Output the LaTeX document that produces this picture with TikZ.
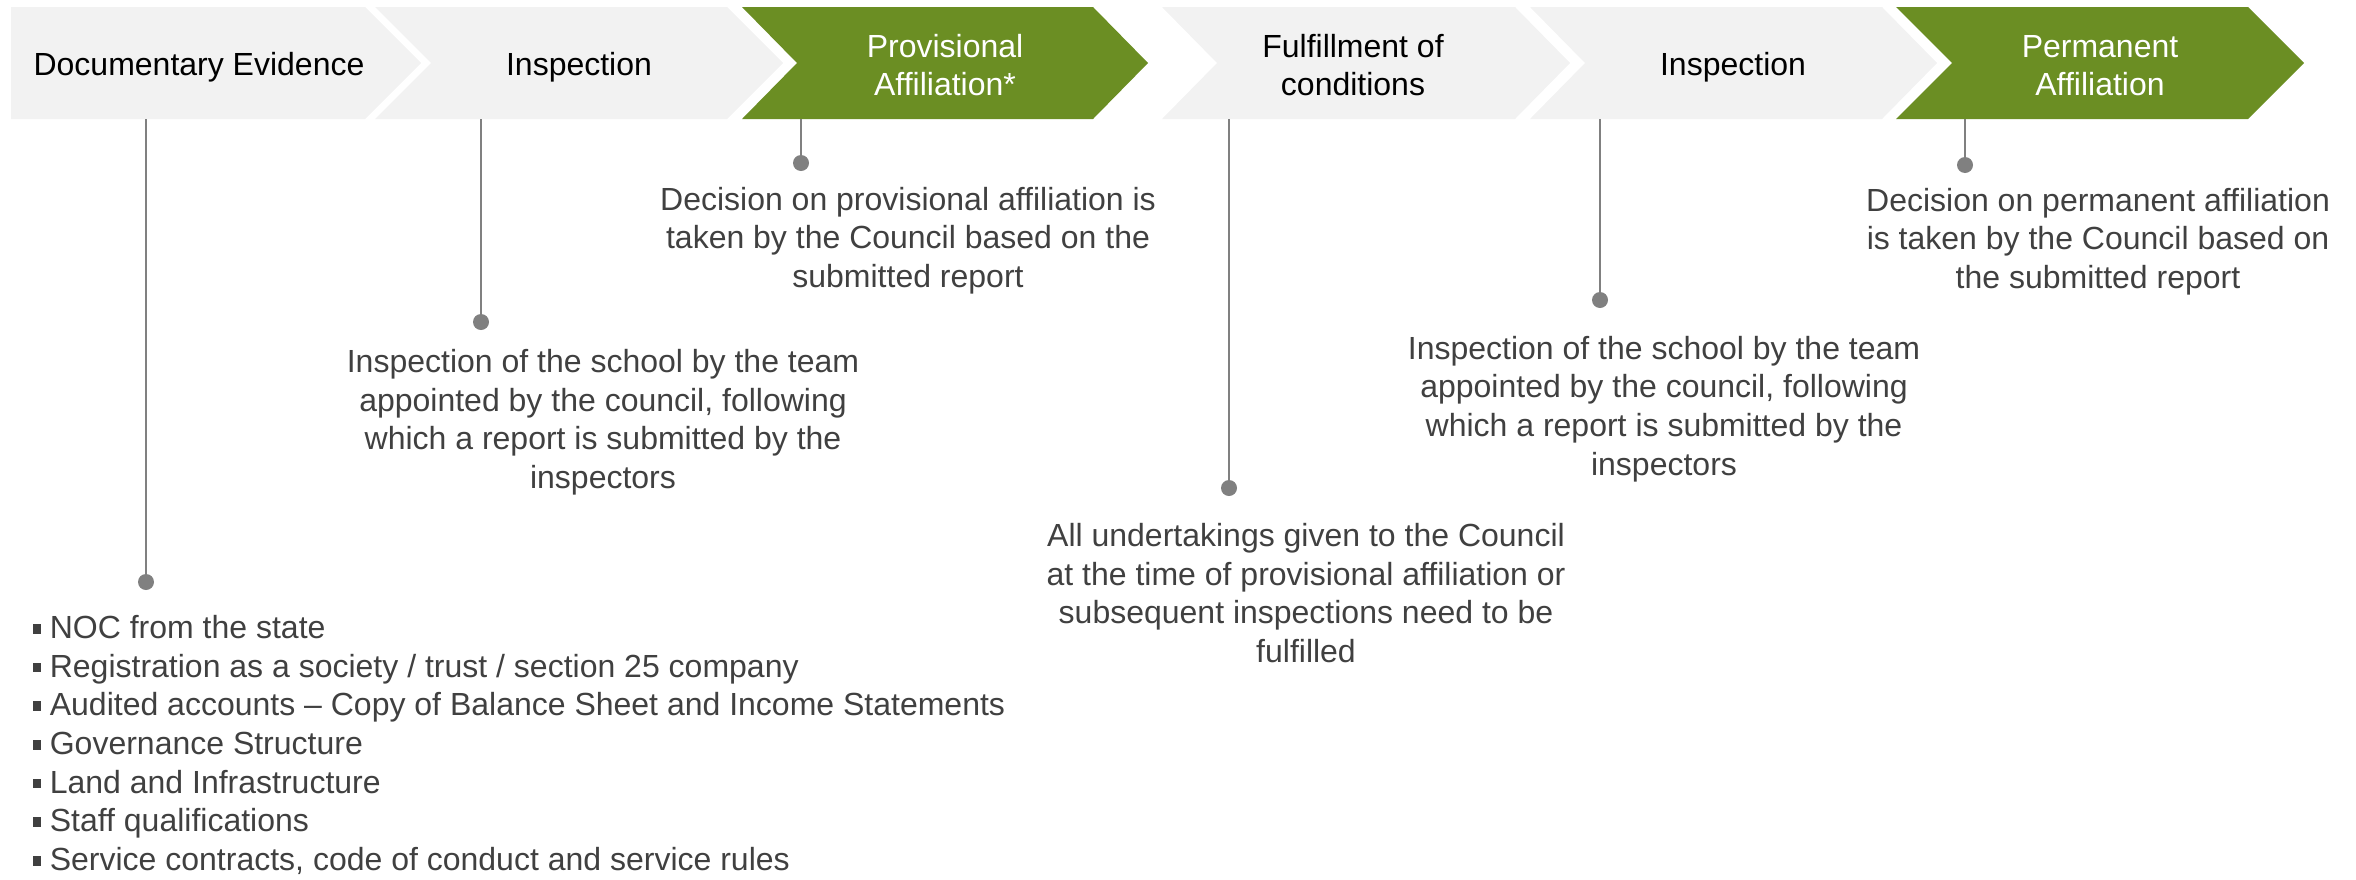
\documentclass[tikz,border=0pt]{standalone}
\usepackage{fontspec}
\setmainfont{Liberation Sans}
\definecolor{chevgrey}{HTML}{F2F2F2}
\definecolor{chevgreen}{HTML}{6B8E23}
\definecolor{txtgrey}{HTML}{404040}
\definecolor{linegrey}{HTML}{808080}
\newcommand\sqbul{\rule[0.15em]{0.24em}{0.3em}\hspace{0.28em}}
\begin{document}
\begin{tikzpicture}[x=1pt,y=-1pt,
 greychev/.style={fill=chevgrey},
 greenchev/.style={fill=chevgreen},
 headtxt/.style={anchor=north, align=center, inner sep=0pt, font=\fontsize{32}{38.7}\selectfont, text=black},
 headw/.style={headtxt, text=white},
 bodytxt/.style={anchor=north, align=center, inner sep=0pt, font=\fontsize{32}{38.7}\selectfont, text=txtgrey},
 conn/.style={draw=linegrey, line width=2.5pt},
 dot/.style={circle, fill=linegrey, minimum size=16pt, inner sep=0pt}]
\useasboundingbox (0,0) rectangle (2356,879);

% chevrons
\fill[greychev] (11,7) -- (365,7) -- (421,63) -- (365,119) -- (11,119) -- cycle;
\fill[greychev] (375,7) -- (727,7) -- (783,63) -- (727,119) -- (375,119) -- (431,63) -- cycle;
\fill[greenchev] (742,7) -- (1093,7) -- (1148,63) -- (1093,119) -- (742,119) -- (797,63) -- cycle;
\fill[greychev] (1162,7) -- (1515,7) -- (1570,63) -- (1515,119) -- (1162,119) -- (1217,63) -- cycle;
\fill[greychev] (1530,7) -- (1882,7) -- (1937,63) -- (1882,119) -- (1530,119) -- (1585,63) -- cycle;
\fill[greenchev] (1896,7) -- (2248,7) -- (2304,63) -- (2248,119) -- (1896,119) -- (1952,63) -- cycle;

% chevron labels
\node[headtxt] (h1) at (199,48) {\strut Documentary Evidence};
\node[headtxt] (h2) at (579,48) {\strut Inspection};
\node[headw]   (h3) at (945,30) {\strut Provisional\\Affiliation*};
\node[headtxt] (h4) at (1353,30) {\strut Fulfillment of\\conditions};
\node[headtxt] (h5) at (1733,48) {\strut Inspection};
\node[headw]   (h6) at (2100,30) {\strut Permanent\\Affiliation};

% connector start points
\coordinate (s1) at (146,119);
\coordinate (s2) at (481,119);
\coordinate (s3) at (801,119);
\coordinate (s4) at (1229,119);
\coordinate (s5) at (1600,119);
\coordinate (s6) at (1965,119);

\coordinate (e1) at (146,582);
\coordinate (e2) at (481,322);
\coordinate (e3) at (801,163);
\coordinate (e4) at (1229,488);
\coordinate (e5) at (1600,300);
\coordinate (e6) at (1965,165);

\foreach \i in {1,...,6} {
  \draw[conn] (s\i) -- (e\i);
  \node[dot] (d\i) at (e\i) {};
}

% body texts
\node[bodytxt] (t3) at (908,183) {\strut Decision on provisional affiliation is\\taken by the Council based on the\\submitted report};
\node[bodytxt] (t2) at (603,345) {\strut Inspection of the school by the team\\appointed by the council, following\\which a report is submitted by the\\inspectors};
\node[bodytxt] (t4) at (1306,519) {\strut All undertakings given to the Council\\at the time of provisional affiliation or\\subsequent inspections need to be\\fulfilled};
\node[bodytxt] (t5) at (1664,332) {\strut Inspection of the school by the team\\appointed by the council, following\\which a report is submitted by the\\inspectors};
\node[bodytxt] (t6) at (2098,184) {\strut Decision on permanent affiliation\\is taken by the Council based on\\the submitted report};
\node[bodytxt, anchor=north west, align=left] (t1) at (33,611) {\strut\sqbul NOC from the state\\
\sqbul Registration as a society / trust / section 25 company\\
\sqbul Audited accounts -- Copy of Balance Sheet and Income Statements\\
\sqbul Governance Structure\\
\sqbul Land and Infrastructure\\
\sqbul Staff qualifications\\
\sqbul Service contracts, code of conduct and service rules};
\end{tikzpicture}
\end{document}
